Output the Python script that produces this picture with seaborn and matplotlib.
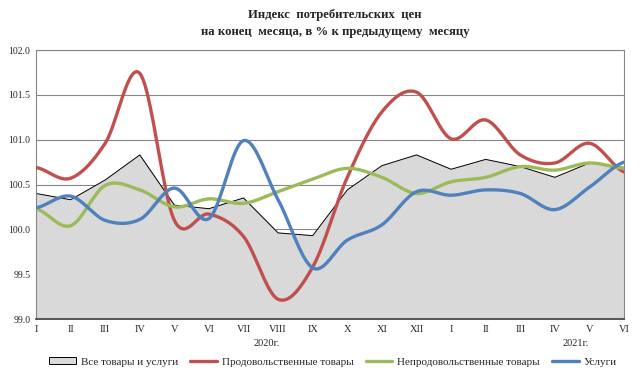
import numpy as np
import pandas as pd
import matplotlib
matplotlib.use("Agg")
import matplotlib.pyplot as plt
import seaborn as sns
from matplotlib.patches import Patch
from matplotlib.lines import Line2D

# Months (2020: I..XII, 2021: I..VI)
months = ['I', 'II', 'III', 'IV', 'V', 'VI', 'VII', 'VIII', 'IX', 'X', 'XI', 'XII',
          'I', 'II', 'III', 'IV', 'V', 'VI']

all_goods = [100.40, 100.33, 100.55, 100.83, 100.27, 100.23, 100.35, 99.96, 99.93,
             100.44, 100.71, 100.83, 100.67, 100.78, 100.70, 100.58, 100.74, 100.69]
food = [100.69, 100.57, 100.96, 101.74, 100.10, 100.17, 99.92, 99.22, 99.58,
        100.58, 101.31, 101.53, 101.01, 101.22, 100.83, 100.74, 100.96, 100.64]
nonfood = [100.23, 100.04, 100.49, 100.44, 100.25, 100.34, 100.29, 100.42, 100.56,
           100.68, 100.58, 100.40, 100.53, 100.58, 100.70, 100.66, 100.74, 100.68]
services = [100.24, 100.37, 100.10, 100.11, 100.46, 100.12, 100.99, 100.33, 99.57,
            99.88, 100.05, 100.42, 100.38, 100.44, 100.40, 100.22, 100.47, 100.75]

labels = ['Все товары и услуги', 'Продовольственные товары',
          'Непродовольственные товары', 'Услуги']
colors = ['#C0504D', '#9BBB59', '#4F81BD']


def smooth(y, n=20):
    # Excel-like smoothed line (Catmull-Rom spline)
    y = np.asarray(y, dtype=float)
    p = np.concatenate([[y[0]], y, [y[-1]]])
    xs, ys = [], []
    for i in range(len(y) - 1):
        p0, p1, p2, p3 = p[i], p[i + 1], p[i + 2], p[i + 3]
        t = np.linspace(0, 1, n, endpoint=False)
        yy = 0.5 * ((2 * p1) + (-p0 + p2) * t + (2 * p0 - 5 * p1 + 4 * p2 - p3) * t ** 2
                    + (-p0 + 3 * p1 - 3 * p2 + p3) * t ** 3)
        xs.append(i + t)
        ys.append(yy)
    xs.append([len(y) - 1])
    ys.append([y[-1]])
    return np.concatenate(xs), np.concatenate(ys)


sns.set_style("white")
plt.rcParams['font.family'] = ['Liberation Serif', 'DejaVu Serif']

fig = plt.figure(figsize=(6.43, 3.75), dpi=100)
ax = fig.add_axes([36 / 643, 1 - 319 / 375, 588 / 643, 269 / 375])

x = np.arange(len(months))
ax.fill_between(x, 99.0, all_goods, color='#D9D9D9', zorder=1)
sns.lineplot(x=x, y=all_goods, color='black', linewidth=0.7, ax=ax, zorder=2)

for series, c in zip([food, nonfood, services], colors):
    sx, sy = smooth(series)
    df = pd.DataFrame({'x': sx, 'y': sy})
    sns.lineplot(data=df, x='x', y='y', color=c, linewidth=2.4, ax=ax, zorder=3,
                 sort=False)

ax.set_xlim(0, len(months) - 1)
ax.set_ylim(99.0, 102.0)
ax.set_yticks(np.arange(99.0, 102.01, 0.5))
ax.set_yticklabels([f'{v:.1f}' for v in np.arange(99.0, 102.01, 0.5)], fontsize=7)
ax.set_xticks(x)
ax.set_xticklabels(months, fontsize=7.5)
ax.set_xlabel('')
ax.set_ylabel('')
ax.grid(axis='y', color='#868686', linewidth=0.8, zorder=0)
ax.set_axisbelow(True)
for s in ['top', 'right', 'left']:
    ax.spines[s].set_color('#868686')
    ax.spines[s].set_linewidth(0.8)
ax.spines['bottom'].set_color('#404040')
ax.spines['bottom'].set_linewidth(1.2)
ax.tick_params(axis='both', length=0, pad=4)

fig.text(267 / 643, 1 - 344 / 375, '2020г.', fontsize=7.5, ha='center', va='center')
fig.text(576 / 643, 1 - 344 / 375, '2021г.', fontsize=7.5, ha='center', va='center')

fig.text(335 / 643, 1 - 15 / 375, 'Индекс  потребительских  цен', fontsize=9.2,
         fontweight='bold', ha='center', va='center')
fig.text(335 / 643, 1 - 32 / 375, 'на конец  месяца, в % к предыдущему  месяцу',
         fontsize=9.2, fontweight='bold', ha='center', va='center')

handles = [Patch(facecolor='#D9D9D9', edgecolor='black', linewidth=0.7)] + \
          [Line2D([0], [0], color=c, linewidth=2.4) for c in colors]
fig.legend(handles, labels, loc='center', bbox_to_anchor=(333 / 643, 1 - 362 / 375),
           ncol=4, frameon=False, fontsize=8, handlelength=2.4, columnspacing=1.1,
           handletextpad=0.45, handleheight=0.6)

fig.savefig('out.png', dpi=100)
